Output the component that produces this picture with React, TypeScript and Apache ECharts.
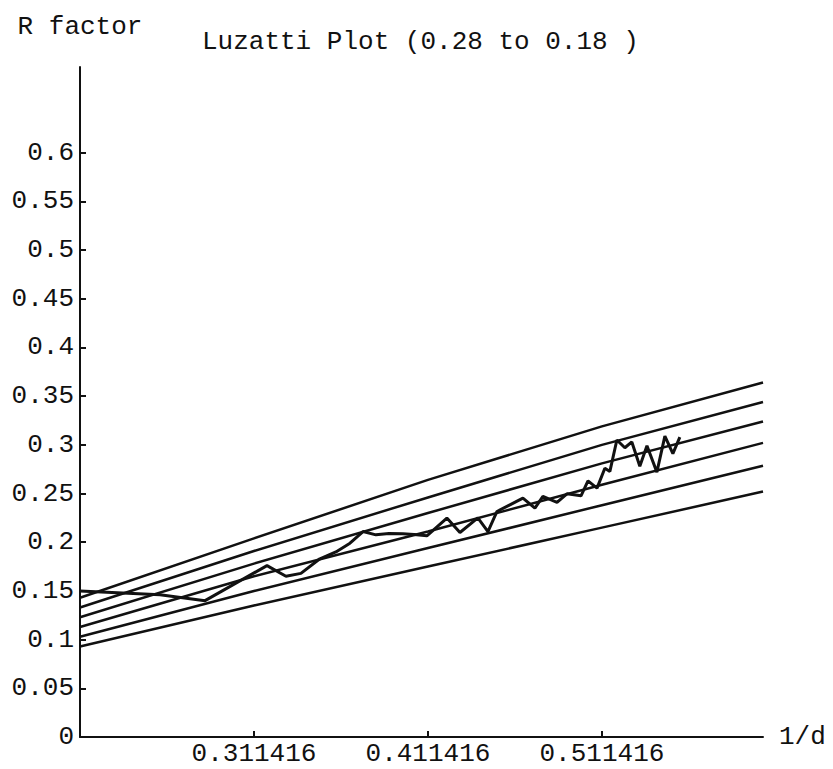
import React, { useEffect, useRef } from 'react';
import * as echarts from 'echarts';

const titleText = 'Luzatti Plot (0.28 to 0.18 )';
const xName = '1/d';
const yName = 'R factor';

const xTicks = [0.311416, 0.411416, 0.511416];
const yTicks = [0, 0.05, 0.1, 0.15, 0.2, 0.25, 0.3, 0.35, 0.4, 0.45, 0.5, 0.55, 0.6];

// Luzzati model curves (sampled positions along 1/d)
const modelX = [0.211416, 0.311416, 0.411416, 0.511416, 0.604];
const model1 = [0.143, 0.204, 0.264, 0.319, 0.364];
const model2 = [0.133, 0.191, 0.246, 0.3, 0.344];
const model3 = [0.123, 0.178, 0.23, 0.281, 0.324];
const model4 = [0.113, 0.165, 0.211, 0.259, 0.302];
const model5 = [0.103, 0.15, 0.194, 0.238, 0.2785];
const model6 = [0.093, 0.135, 0.175, 0.215, 0.252];
const models = [model1, model2, model3, model4, model5, model6];

// Observed R factor vs 1/d
const obsX = [
  0.2114, 0.2574, 0.2833, 0.3189, 0.3298, 0.3384, 0.3493, 0.3585, 0.3666, 0.3741,
  0.3815, 0.389, 0.397, 0.4034, 0.4108, 0.4223, 0.4298, 0.4401, 0.4459, 0.4511,
  0.4585, 0.466, 0.4729, 0.4775, 0.4856, 0.4913, 0.4994, 0.5034, 0.5086, 0.5131,
  0.516, 0.52, 0.5246, 0.5286, 0.5332, 0.5373, 0.543, 0.5476, 0.5522, 0.5562,
];
const obsR = [
  0.15, 0.146, 0.14, 0.176, 0.165, 0.168, 0.183, 0.19, 0.199, 0.211,
  0.2076, 0.209, 0.2086, 0.208, 0.2066, 0.2248, 0.21, 0.225, 0.211, 0.2316,
  0.2384, 0.2453, 0.235, 0.247, 0.241, 0.2497, 0.2477, 0.263, 0.2556, 0.276,
  0.2727, 0.305, 0.297, 0.303, 0.278, 0.299, 0.272, 0.309, 0.291, 0.308,
];

const FONT = '"Liberation Mono", "DejaVu Sans Mono", monospace';
const INK = '#111';
const FS = 26;

export default function App() {
  const ref = useRef<HTMLDivElement>(null);
  useEffect(() => {
    if (!ref.current) return;
    const chart = echarts.init(ref.current, undefined, { renderer: 'svg' });
    const modelSeries = models.map((m, k) => ({
      name: 'model' + (k + 1),
      type: 'line',
      data: modelX.map((x, i) => [x, m[i]]),
      showSymbol: false,
      smooth: false,
      lineStyle: { color: INK, width: 2.5 },
      clip: false,
      silent: true,
    }));
    chart.setOption({
      animation: false,
      backgroundColor: '#fff',
      title: {
        text: titleText,
        left: 197,
        top: 24,
        textStyle: { fontFamily: FONT, fontSize: FS, fontWeight: 'normal', color: INK },
      },
      grid: { left: 80, right: 70, top: 67, bottom: 32, containLabel: false },
      xAxis: {
        type: 'value',
        min: 0.211416,
        max: 0.604,
        name: xName,
        nameLocation: 'end',
        nameGap: 16,
        nameTextStyle: { fontFamily: FONT, fontSize: FS, color: INK },
        axisLine: { lineStyle: { color: INK, width: 2 } },
        axisTick: { inside: true, length: 6, customValues: xTicks, lineStyle: { color: INK, width: 2 } },
        axisLabel: {
          customValues: xTicks,
          formatter: (v: number) => v.toFixed(6),
          fontFamily: FONT,
          fontSize: FS,
          lineHeight: 26,
          color: INK,
          margin: 4,
        },
        splitLine: { show: false },
      },
      yAxis: {
        type: 'value',
        min: 0,
        max: 0.688,
        name: yName,
        nameLocation: 'end',
        nameGap: 27,
        nameTextStyle: { fontFamily: FONT, fontSize: FS, color: INK, align: 'center' },
        axisLine: { show: true, lineStyle: { color: INK, width: 2 } },
        axisTick: { show: true, inside: true, length: 6, customValues: yTicks, lineStyle: { color: INK, width: 2 } },
        axisLabel: {
          customValues: yTicks,
          formatter: (v: number) => String(Math.round(v * 100) / 100),
          fontFamily: FONT,
          fontSize: FS,
          color: INK,
          margin: 6,
        },
        splitLine: { show: false },
      },
      series: [
        ...modelSeries,
        {
          name: 'observed',
          type: 'line',
          data: obsX.map((x, i) => [x, obsR[i]]),
          showSymbol: false,
          lineStyle: { color: INK, width: 3 },
          silent: true,
        },
      ],
    });
    return () => chart.dispose();
  }, []);
  return (
    <div
      ref={ref}
      style={{ position: 'absolute', left: 0, top: 0, width: 833, height: 769, background: '#fff' }}
    />
  );
}
